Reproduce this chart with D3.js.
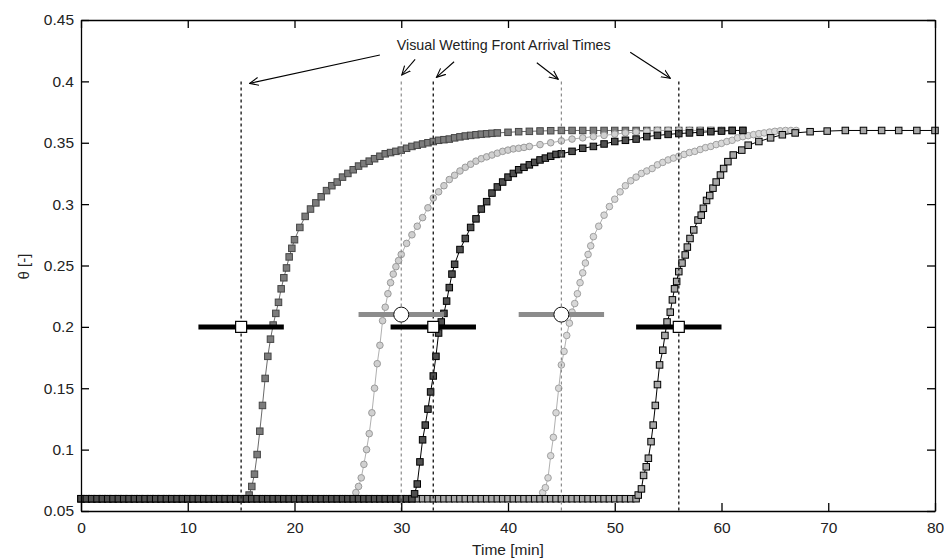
<!DOCTYPE html>
<html><head><meta charset="utf-8">
<script src="https://cdn.jsdelivr.net/npm/d3@7"></script>
<style>
body{margin:0;background:#fff;}
svg{display:block;font-family:"Liberation Sans",Arial,sans-serif;}
</style></head><body>
<svg id="chart" width="944" height="558"></svg>
<script>
// ---------- data ----------
const xTicks = [0,10,20,30,40,50,60,70,80];
const xTickLabels = ["0","10","20","30","40","50","60","70","80"];
const yTicks = [0.05,0.1,0.15,0.2,0.25,0.3,0.35,0.4,0.45];
const yTickLabels = ["0.05","0.1","0.15","0.2","0.25","0.3","0.35","0.4","0.45"];

// Curve 1 (dark gray squares)
const c1T = [0,0.5,1,1.5,2,2.5,3,3.5,4,4.5,5,5.5,6,6.5,7,7.5,8,8.5,9,9.5,10,10.5,11,11.5,12,12.5,13,13.5,14,14.5,15,15.5,
 15.75,16,16.25,16.5,16.75,17,17.25,17.5,17.75,18,18.25,18.5,18.75,19,19.25,19.5,19.75,20,20.5,21,21.5,22,22.5,23,23.5,24,24.5,25,25.5,26,26.5,27,27.5,28,28.5,29,29.5,30,30.5,31,31.5,32,32.5,33,33.5,34,34.5,35,35.5,36,36.5,37,37.5,38,38.5,39,40,41,42,43,44,45,46,47,48,49,50,51,52,53,54,55,56,57,58,59,60,61,62];
const c1V = [0.06,0.06,0.06,0.06,0.06,0.06,0.06,0.06,0.06,0.06,0.06,0.06,0.06,0.06,0.06,0.06,0.06,0.06,0.06,0.06,0.06,0.06,0.06,0.06,0.06,0.06,0.06,0.06,0.06,0.06,0.06,0.06,
 0.063,0.07,0.08,0.096,0.115,0.136,0.158,0.176,0.19,0.2015,0.211,0.22,0.231,0.24,0.248,0.257,0.264,0.271,0.281,0.29,0.296,0.301,0.306,0.311,0.315,0.318,0.322,0.325,0.328,0.331,0.333,0.335,0.337,0.339,0.341,0.342,0.343,0.344,0.3455,0.347,0.348,0.349,0.35,0.351,0.352,0.3525,0.353,0.354,0.3548,0.3555,0.356,0.3565,0.357,0.3573,0.3577,0.358,0.3585,0.359,0.3593,0.3596,0.3598,0.36,0.36,0.36,0.36,0.36,0.36,0.36,0.36,0.36,0.36,0.36,0.36,0.36,0.36,0.36,0.36,0.36,0.36];

// Curve 2 (light gray circles)
const c2T = [0,0.5,1,1.5,2,2.5,3,3.5,4,4.5,5,5.5,6,6.5,7,7.5,8,8.5,9,9.5,10,10.5,11,11.5,12,12.5,13,13.5,14,14.5,15,15.5,16,16.5,17,17.5,18,18.5,19,19.5,20,20.5,21,21.5,22,22.5,23,23.5,24,24.5,25,25.5,
 25.75,26,26.25,26.5,26.75,27,27.25,27.5,27.75,28,28.25,28.5,28.75,29,29.25,29.5,29.75,30,30.5,31,31.5,32,32.5,33,33.5,34,34.5,35,35.5,36,36.5,37,37.5,38,38.5,39,39.5,40,40.5,41,41.5,42,43,44,45,46,47,48,49,50,51,52,53,54,55,56,57,58,59,60,61,62];
const c2V = [0.06,0.06,0.06,0.06,0.06,0.06,0.06,0.06,0.06,0.06,0.06,0.06,0.06,0.06,0.06,0.06,0.06,0.06,0.06,0.06,0.06,0.06,0.06,0.06,0.06,0.06,0.06,0.06,0.06,0.06,0.06,0.06,0.06,0.06,0.06,0.06,0.06,0.06,0.06,0.06,0.06,0.06,0.06,0.06,0.06,0.06,0.06,0.06,0.06,0.06,0.06,0.06,
 0.065,0.07,0.077,0.088,0.1,0.113,0.13,0.15,0.17,0.185,0.205,0.216,0.227,0.236,0.243,0.249,0.254,0.259,0.268,0.275,0.282,0.289,0.297,0.305,0.31,0.315,0.32,0.3235,0.327,0.33,0.3325,0.335,0.337,0.3385,0.34,0.3415,0.343,0.344,0.345,0.3455,0.3462,0.347,0.3485,0.35,0.3515,0.353,0.354,0.355,0.356,0.357,0.358,0.3588,0.3594,0.36,0.36,0.36,0.36,0.36,0.36,0.36,0.36,0.36];

// Curve 3 (black squares)
const c3T = [0,0.5,1,1.5,2,2.5,3,3.5,4,4.5,5,5.5,6,6.5,7,7.5,8,8.5,9,9.5,10,10.5,11,11.5,12,12.5,13,13.5,14,14.5,15,15.5,16,16.5,17,17.5,18,18.5,19,19.5,20,20.5,21,21.5,22,22.5,23,23.5,24,24.5,25,25.5,26,26.5,27,27.5,28,28.5,29,29.5,30,30.5,31,
 31.25,31.5,31.75,32,32.25,32.5,32.75,33,33.25,33.5,33.75,34,34.25,34.5,34.75,35,35.5,36,36.5,37,37.5,38,38.5,39,39.5,40,40.5,41,41.5,42,42.5,43,43.5,44,44.5,45,46,47,48,49,50,51,52,53,54,55,56,57,58,59,60,61,62];
const c3V = [0.06,0.06,0.06,0.06,0.06,0.06,0.06,0.06,0.06,0.06,0.06,0.06,0.06,0.06,0.06,0.06,0.06,0.06,0.06,0.06,0.06,0.06,0.06,0.06,0.06,0.06,0.06,0.06,0.06,0.06,0.06,0.06,0.06,0.06,0.06,0.06,0.06,0.06,0.06,0.06,0.06,0.06,0.06,0.06,0.06,0.06,0.06,0.06,0.06,0.06,0.06,0.06,0.06,0.06,0.06,0.06,0.06,0.06,0.06,0.06,0.06,0.06,0.06,
 0.064,0.072,0.09,0.108,0.12,0.133,0.147,0.16,0.176,0.195,0.204,0.211,0.221,0.232,0.243,0.251,0.263,0.272,0.281,0.288,0.296,0.302,0.309,0.314,0.318,0.322,0.325,0.328,0.33,0.332,0.334,0.336,0.3375,0.339,0.3405,0.341,0.343,0.3455,0.347,0.349,0.351,0.352,0.353,0.355,0.356,0.3568,0.3575,0.358,0.3585,0.359,0.3595,0.36,0.36];

// Curve 4 (light gray circles)
const c4T = [0,0.5,1,1.5,2,2.5,3,3.5,4,4.5,5,5.5,6,6.5,7,7.5,8,8.5,9,9.5,10,10.5,11,11.5,12,12.5,13,13.5,14,14.5,15,15.5,16,16.5,17,17.5,18,18.5,19,19.5,20,20.5,21,21.5,22,22.5,23,23.5,24,24.5,25,25.5,26,26.5,27,27.5,28,28.5,29,29.5,30,30.5,31,31.5,32,32.5,33,33.5,34,34.5,35,35.5,36,36.5,37,37.5,38,38.5,39,39.5,40,40.5,41,41.5,42,42.5,43,
 43.25,43.5,43.75,44,44.25,44.5,44.75,45,45.25,45.5,45.75,46,46.25,46.5,46.75,47,47.25,47.5,47.75,48,48.5,49,49.5,50,50.5,51,51.5,52,52.5,53,53.5,54,54.5,55,55.5,56,56.5,57,57.5,58,58.5,59,59.5,60,60.5,61,61.5,62,62.5,63,63.5,64,64.5,65,65.5,66,66.5,67];
const c4V = [0.06,0.06,0.06,0.06,0.06,0.06,0.06,0.06,0.06,0.06,0.06,0.06,0.06,0.06,0.06,0.06,0.06,0.06,0.06,0.06,0.06,0.06,0.06,0.06,0.06,0.06,0.06,0.06,0.06,0.06,0.06,0.06,0.06,0.06,0.06,0.06,0.06,0.06,0.06,0.06,0.06,0.06,0.06,0.06,0.06,0.06,0.06,0.06,0.06,0.06,0.06,0.06,0.06,0.06,0.06,0.06,0.06,0.06,0.06,0.06,0.06,0.06,0.06,0.06,0.06,0.06,0.06,0.06,0.06,0.06,0.06,0.06,0.06,0.06,0.06,0.06,0.06,0.06,0.06,0.06,0.06,0.06,0.06,0.06,0.06,0.06,0.06,
 0.065,0.069,0.077,0.095,0.11,0.13,0.15,0.169,0.18,0.193,0.203,0.212,0.219,0.227,0.236,0.244,0.252,0.259,0.266,0.2735,0.282,0.291,0.298,0.304,0.31,0.315,0.319,0.322,0.325,0.327,0.329,0.332,0.334,0.336,0.3375,0.339,0.3405,0.342,0.343,0.3445,0.346,0.347,0.3485,0.3495,0.351,0.352,0.354,0.355,0.3558,0.3566,0.3574,0.358,0.3587,0.3593,0.3597,0.36,0.36,0.36];

// Curve 5 (black squares)
const c5T = [0,0.5,1,1.5,2,2.5,3,3.5,4,4.5,5,5.5,6,6.5,7,7.5,8,8.5,9,9.5,10,10.5,11,11.5,12,12.5,13,13.5,14,14.5,15,15.5,16,16.5,17,17.5,18,18.5,19,19.5,20,20.5,21,21.5,22,22.5,23,23.5,24,24.5,25,25.5,26,26.5,27,27.5,28,28.5,29,29.5,30,30.5,31,31.5,32,32.5,33,33.5,34,34.5,35,35.5,36,36.5,37,37.5,38,38.5,39,39.5,40,40.5,41,41.5,42,42.5,43,43.5,44,44.5,45,45.5,46,46.5,47,47.5,48,48.5,49,49.5,50,50.5,51,51.5,52,
 52.2,52.5,52.7,52.95,53.15,53.4,53.6,53.8,54,54.2,54.5,54.7,54.9,55.2,55.4,55.6,55.8,56,56.3,56.6,56.8,57.05,57.4,57.8,58.1,58.3,58.6,58.9,59.2,59.5,59.9,60.2,60.6,61.1,61.9,62.5,63.5,64.6,65.7,66.9,68.3,69.9,71.6,73.3,75,76.6,78.3,80];
const c5V = [0.06,0.06,0.06,0.06,0.06,0.06,0.06,0.06,0.06,0.06,0.06,0.06,0.06,0.06,0.06,0.06,0.06,0.06,0.06,0.06,0.06,0.06,0.06,0.06,0.06,0.06,0.06,0.06,0.06,0.06,0.06,0.06,0.06,0.06,0.06,0.06,0.06,0.06,0.06,0.06,0.06,0.06,0.06,0.06,0.06,0.06,0.06,0.06,0.06,0.06,0.06,0.06,0.06,0.06,0.06,0.06,0.06,0.06,0.06,0.06,0.06,0.06,0.06,0.06,0.06,0.06,0.06,0.06,0.06,0.06,0.06,0.06,0.06,0.06,0.06,0.06,0.06,0.06,0.06,0.06,0.06,0.06,0.06,0.06,0.06,0.06,0.06,0.06,0.06,0.06,0.06,0.06,0.06,0.06,0.06,0.06,0.06,0.06,0.06,0.06,0.06,0.06,0.06,0.06,0.06,
 0.063,0.068,0.079,0.086,0.093,0.1065,0.12,0.136,0.153,0.169,0.181,0.193,0.204,0.212,0.222,0.231,0.237,0.245,0.252,0.2586,0.265,0.272,0.279,0.287,0.291,0.2966,0.303,0.307,0.313,0.318,0.3237,0.329,0.3346,0.34,0.344,0.348,0.351,0.354,0.3565,0.358,0.359,0.3595,0.36,0.36,0.36,0.36,0.36,0.36];

// Visual wetting front arrival times (vertical lines) and error bars
const arrivalTimes = [15,30,33,45,56];
const arrivalTop = 0.4;
const barBlackCenters = [15,33,56];
const barBlackLevel = 0.2;
const barGrayCenters = [30,45];
const barGrayLevel = 0.21;
const barHalfWidth = 4;

// Annotation
const annotationText = "Visual Wetting Front Arrival Times";
const annotationPos = [39.6, 0.4255];
const arrowStarts = [[28.0,0.4215],[31.3,0.418],[34.95,0.416],[42.7,0.4152],[51.45,0.4237]];
const arrowEnds   = [[15.8,0.3984],[30.05,0.4052],[33.3,0.4033],[44.7,0.4017],[55.2,0.4025]];

// ---------- chart ----------
const svg = d3.select("#chart");
const L = 81, R = 935, T = 20, B = 511;
const x = d3.scaleLinear().domain([0,80]).range([L,R]);
const y = d3.scaleLinear().domain([0.05,0.45]).range([B,T]);

svg.append("rect").attr("width",944).attr("height",558).attr("fill","#fff");

const defs = svg.append("defs");
defs.append("clipPath").attr("id","clip").append("rect")
  .attr("x",L-5).attr("y",T).attr("width",R-L+10).attr("height",B-T);
defs.append("marker").attr("id","arr").attr("viewBox","0 -5 10 10")
  .attr("refX",9).attr("refY",0).attr("markerWidth",10).attr("markerHeight",10)
  .attr("markerUnits","userSpaceOnUse").attr("orient","auto")
  .append("path").attr("d","M0,-4L9,0L0,4").attr("fill","none").attr("stroke","#000").attr("stroke-width",1.1);

const series = [
  {t:c1T, v:c1V, shape:"square", line:"#6a6a6a", stroke:"#454545", fill:"#7c7c7c"},
  {t:c2T, v:c2V, shape:"circle", line:"#b0b0b0", stroke:"#9a9a9a", fill:"#d0d0d0"},
  {t:c3T, v:c3V, shape:"square", line:"#000", stroke:"#000", fill:"#505050"},
  {t:c4T, v:c4V, shape:"circle", line:"#b0b0b0", stroke:"#a0a0a0", fill:"#d8d8d8"},
  {t:c5T, v:c5V, shape:"square", line:"#000", stroke:"#000", fill:"#a8a8a8"}
];

const plot = svg.append("g").attr("clip-path","url(#clip)");
const lineGen = d3.line().x(d=>x(d[0])).y(d=>y(d[1]));
const drawOrder = [0,1,3,4,2];
const ms = 6.5;
drawOrder.forEach(i=>{
  const s = series[i];
  const pts = s.t.map((t,k)=>[t,s.v[k]]);
  const g = plot.append("g");
  g.append("path").datum(pts).attr("d",lineGen).attr("fill","none").attr("stroke",s.line).attr("stroke-width",1);
  if (s.shape==="square") {
    g.selectAll("rect").data(pts).join("rect")
      .attr("x",d=>x(d[0])-ms/2).attr("y",d=>y(d[1])-ms/2).attr("width",ms).attr("height",ms)
      .attr("fill",s.fill).attr("stroke",s.stroke).attr("stroke-width",1);
  } else {
    g.selectAll("circle").data(pts).join("circle")
      .attr("cx",d=>x(d[0])).attr("cy",d=>y(d[1])).attr("r",3.3)
      .attr("fill",s.fill).attr("stroke",s.stroke).attr("stroke-width",1);
  }
});

// vertical arrival lines
const dark = new Set(barBlackCenters);
svg.append("g").selectAll("line").data(arrivalTimes).join("line")
  .attr("x1",d=>x(d)).attr("x2",d=>x(d)).attr("y1",y(arrivalTop)).attr("y2",y(0.05))
  .attr("stroke",d=>dark.has(d)?"#222":"#8a8a8a")
  .attr("stroke-width",d=>dark.has(d)?1.4:1.2)
  .attr("stroke-dasharray","3,3");

// error bars
const bars = svg.append("g");
bars.selectAll("line.gb").data(barGrayCenters).join("line").attr("class","gb")
  .attr("x1",d=>x(d-barHalfWidth)).attr("x2",d=>x(d+barHalfWidth))
  .attr("y1",y(barGrayLevel)).attr("y2",y(barGrayLevel))
  .attr("stroke","#8c8c8c").attr("stroke-width",5);
bars.selectAll("line.bb").data(barBlackCenters).join("line").attr("class","bb")
  .attr("x1",d=>x(d-barHalfWidth)).attr("x2",d=>x(d+barHalfWidth))
  .attr("y1",y(barBlackLevel)).attr("y2",y(barBlackLevel))
  .attr("stroke","#000").attr("stroke-width",5);
bars.selectAll("circle").data(barGrayCenters).join("circle")
  .attr("cx",d=>x(d)).attr("cy",y(barGrayLevel)).attr("r",7.5)
  .attr("fill","#fff").attr("stroke","#111").attr("stroke-width",1);
bars.selectAll("rect").data(barBlackCenters).join("rect")
  .attr("x",d=>x(d)-5.5).attr("y",y(barBlackLevel)-5.5).attr("width",11).attr("height",11)
  .attr("fill","#fff").attr("stroke","#000").attr("stroke-width",1.2);

// axes
const fs = "15.5px";
const gx = svg.append("g").attr("transform",`translate(0,${B})`)
  .call(d3.axisBottom(x).tickValues(xTicks).tickFormat((d,i)=>xTickLabels[i]).tickSize(-8).tickSizeOuter(0).tickPadding(11));
const gxt = svg.append("g").attr("transform",`translate(0,${T})`)
  .call(d3.axisTop(x).tickValues(xTicks).tickFormat("").tickSize(-8).tickSizeOuter(0));
const gy = svg.append("g").attr("transform",`translate(${L},0)`)
  .call(d3.axisLeft(y).tickValues(yTicks).tickFormat((d,i)=>yTickLabels[i]).tickSize(-8).tickSizeOuter(0).tickPadding(7));
const gyr = svg.append("g").attr("transform",`translate(${R},0)`)
  .call(d3.axisRight(y).tickValues(yTicks).tickFormat("").tickSize(-8).tickSizeOuter(0));
[gx,gxt,gy,gyr].forEach(g=>{
  g.selectAll("path.domain").attr("stroke","#000").attr("stroke-width",1.3);
  g.selectAll(".tick line").attr("stroke","#000").attr("stroke-width",1.3);
  g.selectAll("text").attr("font-size",fs).attr("fill","#222").attr("font-family","Liberation Sans, Arial, sans-serif");
});

// axis labels
svg.append("text").attr("x",(L+R)/2).attr("y",555).attr("text-anchor","middle")
  .attr("font-size","15.5px").attr("fill","#222").text("Time [min]");
svg.append("text").attr("transform",`translate(29,${(T+B)/2 + 1}) rotate(-90)`).attr("text-anchor","middle")
  .attr("font-size","15px").attr("fill","#222").text("θ [-]");

// annotation
svg.append("text").attr("x",x(annotationPos[0])).attr("y",y(annotationPos[1])).attr("text-anchor","middle")
  .attr("font-size","14.3px").attr("fill","#222").text(annotationText);
svg.append("g").selectAll("line").data(arrowStarts).join("line")
  .attr("x1",d=>x(d[0])).attr("y1",d=>y(d[1]))
  .attr("x2",(d,i)=>x(arrowEnds[i][0])).attr("y2",(d,i)=>y(arrowEnds[i][1]))
  .attr("stroke","#000").attr("stroke-width",1.1).attr("marker-end","url(#arr)");
</script>
</body></html>
